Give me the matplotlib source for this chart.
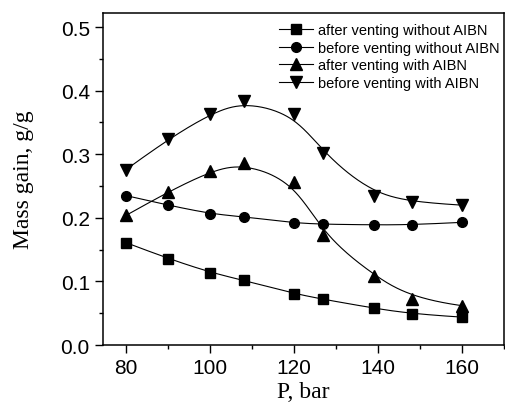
#! python3
# massGain.py - mass gain vs pressure, before/after venting, with and without AIBN

import numpy as np
import matplotlib
matplotlib.use('Agg')
import matplotlib.pyplot as plt
from matplotlib.ticker import MultipleLocator

pressure = [80, 90, 100, 108, 120, 127, 139, 148, 160]

after_no_aibn = [0.161, 0.136, 0.114, 0.102, 0.081, 0.072, 0.058, 0.049, 0.044]
before_no_aibn = [0.235, 0.220, 0.206, 0.202, 0.192, 0.190, 0.189, 0.189, 0.193]
after_aibn = [0.204, 0.241, 0.274, 0.286, 0.257, 0.173, 0.109, 0.073, 0.062]
before_aibn = [0.276, 0.324, 0.364, 0.383, 0.363, 0.302, 0.235, 0.225, 0.220]

labels = ['after venting without AIBN', 'before venting without AIBN',
          'after venting with AIBN', 'before venting with AIBN']
markers = ['s', 'o', '^', 'v']


def bspline(xs, ys, n=300):
    """Clamped cubic B-spline using the data points as control points."""
    pts = np.column_stack([xs, ys]).astype(float)
    m = len(pts)
    k = 3
    knots = np.concatenate([[0] * k, np.arange(m - k + 1), [m - k] * k]).astype(float)
    t = np.linspace(0, m - k, n)
    N = np.zeros((n, len(knots) - 1))
    for i in range(len(knots) - 1):
        N[:, i] = (knots[i] <= t) & (t < knots[i + 1])
    N[t == knots[-1], m - 1] = 1
    for p in range(1, k + 1):
        newN = np.zeros((n, len(knots) - 1 - p))
        for i in range(len(knots) - 1 - p):
            d1 = knots[i + p] - knots[i]
            d2 = knots[i + p + 1] - knots[i + 1]
            a = (t - knots[i]) / d1 * N[:, i] if d1 > 0 else 0
            b = (knots[i + p + 1] - t) / d2 * N[:, i + 1] if d2 > 0 else 0
            newN[:, i] = a + b
        N = newN
    curve = N @ pts
    return curve[:, 0], curve[:, 1]


fig = plt.figure(figsize=(5.05, 4.14), dpi=100)
ax = fig.add_axes([0.204, 0.164, 0.794, 0.802])

series = [after_no_aibn, before_no_aibn, after_aibn, before_aibn]
for ys, lab, mk in zip(series, labels, markers):
    cx, cy = bspline(pressure, ys)
    ax.plot(cx, cy, color='black', lw=0.8)
    ms = 8 if mk in ('^', 'v') else 7
    ax.plot(pressure, ys, linestyle='none', marker=mk, color='black', ms=ms)
    # legend proxy: line + marker
    ax.plot([], [], color='black', lw=0.8, marker=mk, ms=ms, label=lab)

ax.set_xlim(74.5, 170)
ax.set_ylim(0, 0.522)
ax.xaxis.set_major_locator(MultipleLocator(20))
ax.xaxis.set_minor_locator(MultipleLocator(10))
ax.yaxis.set_major_locator(MultipleLocator(0.1))
ax.yaxis.set_minor_locator(MultipleLocator(0.05))
ax.set_yticks([0.0, 0.1, 0.2, 0.3, 0.4, 0.5])
ax.set_yticklabels(['0.0', '0.1', '0.2', '0.3', '0.4', '0.5'])

ax.tick_params(which='major', direction='out', length=6, width=1.0,
               labelsize=15, top=False, right=False)
ax.tick_params(which='minor', direction='out', length=3, width=1.0,
               top=False, right=False)
for label in ax.get_xticklabels() + ax.get_yticklabels():
    label.set_fontfamily('Liberation Sans')
for s in ax.spines.values():
    s.set_linewidth(1.1)

ax.set_xlabel('P, bar', family='Liberation Serif', fontsize=17, labelpad=3)
ax.set_ylabel('Mass gain, g/g', family='Liberation Serif', fontsize=17, labelpad=19)

handles, labs = ax.get_legend_handles_labels()
ax.legend(handles, labs, loc='upper left', bbox_to_anchor=(0.439, 0.97),
          frameon=False, borderpad=0, borderaxespad=0, handlelength=2.3,
          handletextpad=0.4, labelspacing=0.25,
          prop={'family': 'Liberation Sans', 'size': 10.5}, numpoints=1)

fig.savefig('out.png', dpi=100)
